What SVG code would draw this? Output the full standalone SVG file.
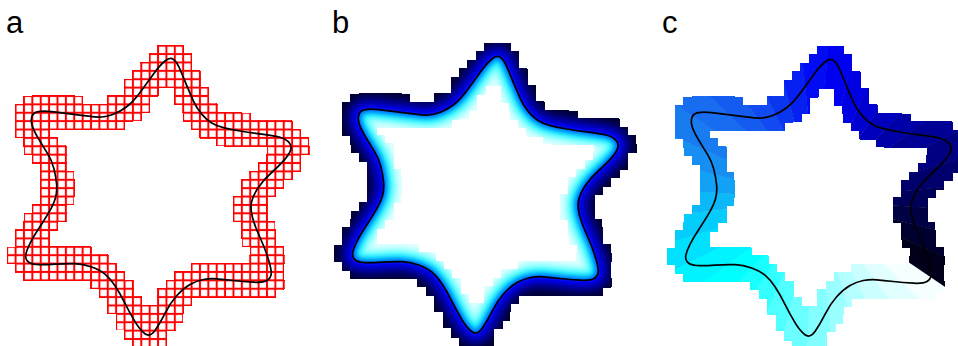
<svg xmlns="http://www.w3.org/2000/svg" xmlns:xlink="http://www.w3.org/1999/xlink" width="958" height="346" viewBox="0 0 958 346">
<style>
.curve{fill:none;stroke:#000;stroke-width:1.7}
.lbl{font-family:"Liberation Sans",Arial,sans-serif;font-size:31px;fill:#000}
</style>
<defs>
<path id="star" d="M165,61 Q170,57 173.35,59.35 Q176.7,61.7 179.2,67.5 Q181.7,73.3 185.85,83.3 Q190,93.3 193.35,100.8 Q196.7,108.3 201.7,114.15 Q206.7,120 211.7,123 Q216.7,126 223.35,127.65 Q230,129.3 240,131 Q250,132.7 261.65,134.2 Q273.3,135.7 279.15,137 Q285,138.3 288.35,141.65 Q291.7,145 290.85,149.15 Q290,153.3 285,159.15 Q280,165 271.650,172.5 Q263.3,180 258.3,187.5 Q253.3,195 251.65,201.65 Q250,208.3 252.5,217.5 Q255,226.7 260,237.5 Q265,248.3 268.35,259.15 Q271.7,270 271.2,274.15 Q270.7,278.3 267,280.5 Q263.3,282.7 253.3,282.2 Q243.3,281.7 233.3,280.5 Q223.3,279.3 216.65,278.8 Q210,278.3 203.35,279.5 Q196.7,280.7 190,284.5 Q183.3,288.3 176.65,295.8 Q170,303.3 165,313.3 Q160,323.3 155,330.4 Q150,337.5 145,333.75 Q140,330 135,321.65 Q130,313.3 125,303.3 Q120,293.3 115,285.8 Q110,278.3 105,274.15 Q100,270 91.65,267 Q83.3,264 75,263.65 Q66.7,263.3 55,264.15 Q43.3,265 36.65,264.5 Q30,264 27.5,261.15 Q25,258.3 25.85,254.15 Q26.7,250 30,243.35 Q33.3,236.7 38.3,229.2 Q43.3,221.7 48.3,213.35 Q53.3,205 55.3,198.5 Q57.3,192 56.65,184.35 Q56,176.7 53.85,168.35 Q51.7,160 47.5,153.35 Q43.3,146.7 38.3,138.35 Q33.3,130 32,125 Q30.7,120 32,116.35 Q33.3,112.7 38.3,111.7 Q43.3,110.7 51.65,111.7 Q60,112.7 70,113.85 Q80,115 88.35,116.15 Q96.7,117.3 101.7,117 Q106.7,116.7 113.35,114.2 Q120,111.7 126.65,106.7 Q133.3,101.7 140,92.5 Q146.7,83.3 153.35,74.15 Q160,65 165,61 Z"/>
<polygon id="w" points="0,0 300,0 295.3,53.1"/>
<pattern id="dots" patternUnits="userSpaceOnUse" x="7.2" y="45.7" width="8.38" height="8.38">
<rect x="3.19" y="3.19" width="2" height="2" fill="#fff"/>
</pattern>
<pattern id="grid" patternUnits="userSpaceOnUse" x="7.2" y="45.7" width="8.38" height="8.38">
<rect x="0" y="0" width="8.38" height="8.38" fill="none" stroke="#f00" stroke-width="2"/>
</pattern>
<mask id="strokeM" maskUnits="userSpaceOnUse" x="-30" y="10" width="380" height="360">
<use href="#star" fill="none" stroke="#fff" stroke-width="30"/>
</mask>
<filter id="dil" filterUnits="userSpaceOnUse" x="-30" y="10" width="380" height="360" color-interpolation-filters="sRGB">
<feMorphology operator="dilate" radius="4"/>
<feComponentTransfer><feFuncA type="discrete" tableValues="0 1"/></feComponentTransfer>
</filter>
<mask id="band" maskUnits="userSpaceOnUse" x="-30" y="10" width="380" height="360">
<g filter="url(#dil)"><rect x="-30" y="10" width="380" height="360" fill="url(#dots)" mask="url(#strokeM)"/></g>
</mask>
<clipPath id="inside"><use href="#star"/></clipPath>
<filter id="blur" filterUnits="userSpaceOnUse" x="-30" y="10" width="380" height="360"><feGaussianBlur stdDeviation="2"/></filter>
</defs>

<g id="labels">
<text class="lbl" x="6" y="33">a</text>
<text class="lbl" x="332" y="33">b</text>
<text class="lbl" x="662" y="33">c</text>
</g>

<g id="panel-a">
<rect x="-30" y="10" width="380" height="360" fill="url(#grid)" mask="url(#band)"/>
<use href="#star" class="curve"/>
</g>

<g id="panel-b" transform="translate(327,-2)">
<g mask="url(#band)">
<rect x="-30" y="10" width="380" height="360" fill="#000030"/>
<g filter="url(#blur)" fill="none">
<use href="#star" stroke="#000030" stroke-width="46"/>
<use href="#star" stroke="#00004c" stroke-width="32"/>
<use href="#star" stroke="#000078" stroke-width="24"/>
<use href="#star" stroke="#0000a8" stroke-width="17"/>
<use href="#star" stroke="#0000d8" stroke-width="10"/>
<use href="#star" stroke="#0008ff" stroke-width="5"/>
</g>
<g clip-path="url(#inside)">
<g filter="url(#blur)">
<use href="#star" fill="#e4ffff"/>
<g fill="none">
<use href="#star" stroke="#d0ffff" stroke-width="34"/>
<use href="#star" stroke="#a8ffff" stroke-width="28"/>
<use href="#star" stroke="#60ffff" stroke-width="22"/>
<use href="#star" stroke="#10f8ff" stroke-width="16"/>
<use href="#star" stroke="#00c8ff" stroke-width="11"/>
<use href="#star" stroke="#0088ff" stroke-width="7"/>
<use href="#star" stroke="#0040ff" stroke-width="3"/>
</g>
</g>
</g>
</g>
<use href="#star" class="curve"/>
</g>

<g id="panel-c" transform="translate(660,1)">
<g mask="url(#band)">
<g transform="translate(157,199)">
<use href="#w" transform="rotate(34)" fill="#f6ffff"/>
<use href="#w" transform="rotate(44)" fill="#e2ffff"/>
<use href="#w" transform="rotate(54)" fill="#ccffff"/>
<use href="#w" transform="rotate(64)" fill="#b4ffff"/>
<use href="#w" transform="rotate(74)" fill="#9cffff"/>
<use href="#w" transform="rotate(84)" fill="#84ffff"/>
<use href="#w" transform="rotate(94)" fill="#6cffff"/>
<use href="#w" transform="rotate(104)" fill="#50ffff"/>
<use href="#w" transform="rotate(114)" fill="#34ffff"/>
<use href="#w" transform="rotate(124)" fill="#18ffff"/>
<use href="#w" transform="rotate(134)" fill="#00ffff"/>
<use href="#w" transform="rotate(144)" fill="#00f4ff"/>
<use href="#w" transform="rotate(154)" fill="#00e0ff"/>
<use href="#w" transform="rotate(164)" fill="#04ccfc"/>
<use href="#w" transform="rotate(174)" fill="#0cb8f8"/>
<use href="#w" transform="rotate(184)" fill="#12a2f5"/>
<use href="#w" transform="rotate(194)" fill="#168ef2"/>
<use href="#w" transform="rotate(204)" fill="#187cf0"/>
<use href="#w" transform="rotate(214)" fill="#186cf0"/>
<use href="#w" transform="rotate(224)" fill="#145cf0"/>
<use href="#w" transform="rotate(234)" fill="#104af0"/>
<use href="#w" transform="rotate(244)" fill="#0a36f0"/>
<use href="#w" transform="rotate(254)" fill="#0620f2"/>
<use href="#w" transform="rotate(264)" fill="#020cf4"/>
<use href="#w" transform="rotate(274)" fill="#0000f0"/>
<use href="#w" transform="rotate(284)" fill="#0000e2"/>
<use href="#w" transform="rotate(294)" fill="#0000d0"/>
<use href="#w" transform="rotate(304)" fill="#0000bc"/>
<use href="#w" transform="rotate(314)" fill="#0000a8"/>
<use href="#w" transform="rotate(324)" fill="#000094"/>
<use href="#w" transform="rotate(334)" fill="#000080"/>
<use href="#w" transform="rotate(344)" fill="#00006c"/>
<use href="#w" transform="rotate(354)" fill="#000058"/>
<use href="#w" transform="rotate(4)" fill="#000044"/>
<use href="#w" transform="rotate(14)" fill="#000030"/>
<use href="#w" transform="rotate(24)" fill="#00001a"/>
</g>
</g>
<use href="#star" class="curve"/>
</g>
</svg>
